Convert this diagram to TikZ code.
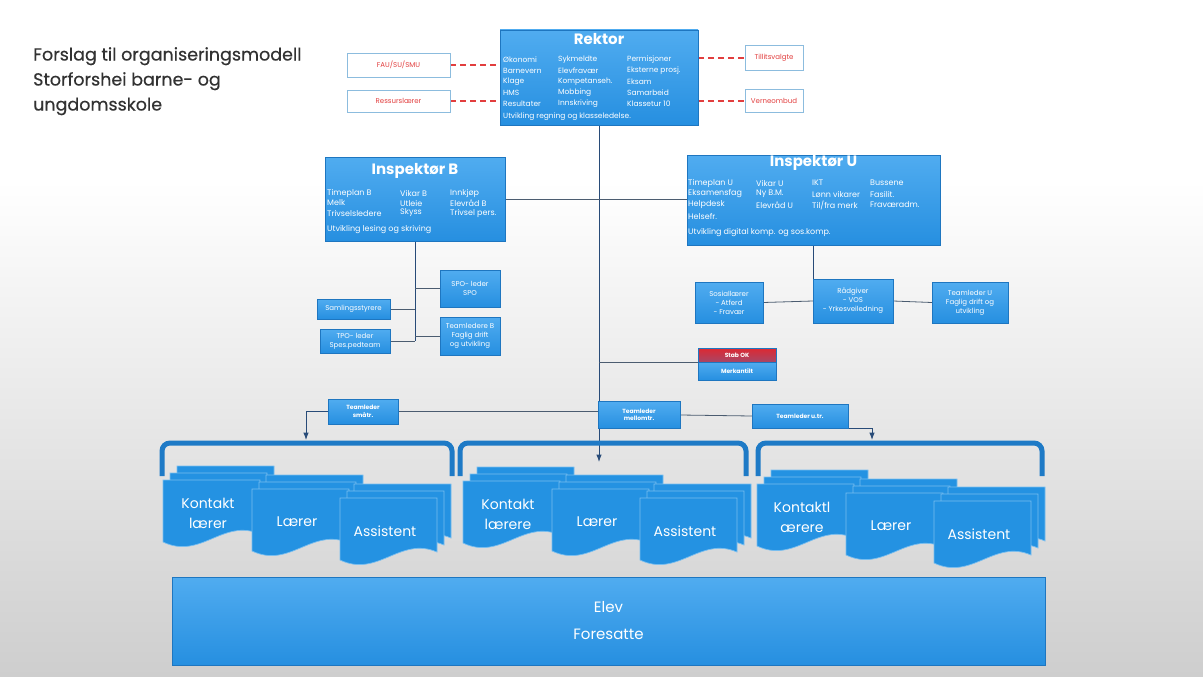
\documentclass[tikz,border=0pt]{standalone}
\usepackage{fontspec}
\setmainfont{Poppins}
\newfontfamily\headfont{Poppins}[FakeBold=0.4]
\usetikzlibrary{arrows.meta}
\definecolor{boxblue}{RGB}{38,143,224}
\definecolor{boxtop}{RGB}{80,172,240}
\definecolor{boxedge}{RGB}{30,118,192}
\definecolor{docblue}{RGB}{36,146,226}
\definecolor{docedge}{RGB}{120,190,240}
\definecolor{bracketblue}{RGB}{30,122,198}
\definecolor{connline}{RGB}{75,92,112}
\definecolor{mainline}{RGB}{40,75,120}
\definecolor{redtxt}{RGB}{226,62,62}
\definecolor{sideedge}{RGB}{140,188,222}
\definecolor{titlegray}{RGB}{50,50,50}
\definecolor{bggray}{RGB}{206,206,206}
\definecolor{stabred}{RGB}{222,40,50}
\pgfdeclarelayer{bg}
\pgfdeclarelayer{lines}
\pgfsetlayers{bg,lines,main}
% one sheet of a document stack, top left corner at (#1,#2)
\newcommand\docsheet[2]{%
  \filldraw[fill=docblue,draw=docedge,line width=0.7pt]
    ({#1},{#2}) -- ({#1+97},{#2}) -- ({#1+97},{#2+54})
    .. controls ({#1+60},{#2+38}) and ({#1+38},{#2+80}) .. ({#1},{#2+62}) -- cycle;}
% stack of three sheets with a label
\newcommand\docstack[4]{%
  \foreach \d in {14,7,0} {\docsheet{#1+\d}{#2-\d}}
  \node[doctext] (#3) at ({#1+45},{#2+33}) {#4};}
\begin{document}
\begin{tikzpicture}[x=1pt,y=-1pt,>=Latex,
  box/.style={rectangle,draw=boxedge,top color=boxtop,bottom color=boxblue,
    text=white,inner sep=1pt,align=center},
  sidebox/.style={rectangle,draw=sideedge,fill=white,text=redtxt,
    font=\fontsize{7}{8}\selectfont},
  boxtitle/.style={text=white,inner sep=0pt,font=\bfseries\fontsize{15}{16}\selectfont},
  cell/.style={anchor=west,text=white,inner sep=0pt,font=\fontsize{8}{9}\selectfont},
  rcell/.style={cell,font=\fontsize{7.5}{9}\selectfont},
  smalltxt/.style={font=\fontsize{7}{9}\selectfont},
  tltxt/.style={font=\bfseries\fontsize{6}{7.5}\selectfont},
  doctext/.style={text=white,align=center,inner sep=0pt,font=\fontsize{14}{20}\selectfont},
  conn/.style={draw=connline,line width=0.8pt},
  mainconn/.style={draw=mainline,line width=1pt},
  dashred/.style={draw=redtxt,line width=1.2pt,dash pattern=on 6pt off 4pt},
  bracket/.style={draw=bracketblue,line width=5pt,rounded corners=8pt}]

\useasboundingbox (0,0) rectangle (1203,677);
\begin{pgfonlayer}{bg}
  \fill[white] (0,0) rectangle (1203,677);
  \shade[top color=white,bottom color=bggray] (0,180) rectangle (1203,677);
\end{pgfonlayer}

% title
\node[anchor=north west,align=left,text=titlegray,inner sep=0pt,
  font=\headfont\fontsize{17.5}{25}\selectfont] (heading) at (33,47)
  {Forslag til organiseringsmodell\\Storforshei barne- og\\ungdomsskole};

% Rektor
\node[box,minimum width=198pt,minimum height=95pt] (rektor) at (599,77.5) {};
\node[boxtitle] (rektortit) at (599,39) {Rektor};
\foreach \t [count=\i] in {Økonomi,Barnevern,Klage,HMS,Resultater}
  \node[rcell] (rka\i) at (503,{49+11*\i}) {\t};
\foreach \t [count=\i] in {Sykmeldte,Elevfravær,Kompetanseh.,Mobbing,Innskriving}
  \node[rcell] (rkb\i) at (558,{49+11*\i}) {\t};
\foreach \t [count=\i] in {Permisjoner,Eksterne prosj.,Eksam,Samarbeid,Klassetur 10}
  \node[rcell] (rkc\i) at (627,{49+11*\i}) {\t};
\node[rcell] (rkfoot) at (503,117) {Utvikling regning og klasseledelse.};

\node[sidebox,minimum width=103pt,minimum height=24pt] (fau) at (398.5,65) {FAU/SU/SMU};
\node[sidebox,minimum width=103pt,minimum height=22pt] (ressurs) at (398.5,101) {Ressurslærer};
\node[sidebox,minimum width=58pt,minimum height=25pt] (tillit) at (774,58) {Tillitsvalgte};
\node[sidebox,minimum width=58pt,minimum height=23pt] (verne) at (774,101) {Verneombud};

% Inspektør B
\node[box,minimum width=180pt,minimum height=84pt] (inspB) at (415,199) {};
\node[boxtitle] (inspBtit) at (415,171) {Inspektør B};
\foreach \t [count=\i] in {Timeplan B,Melk,Trivselsledere}
  \node[cell] (iba\i) at (327,{183+10*\i}) {\t};
\foreach \t [count=\i] in {Vikar B,Utleie,Skyss}
  \node[cell] (ibb\i) at (400,{183+10*\i}) {\t};
\foreach \t [count=\i] in {Innkjøp,Elevråd B,Trivsel pers.}
  \node[cell] (ibc\i) at (450,{183+10*\i}) {\t};
\node[cell] (ibfoot) at (327,230) {Utvikling lesing og skriving};

% Inspektør U
\node[box,minimum width=253pt,minimum height=90pt] (inspU) at (813.5,200) {};
\node[boxtitle] (inspUtit) at (813.5,163) {Inspektør U};
\foreach \t [count=\i] in {Timeplan U,Eksamensfag,Helpdesk,Helsefr.}
  \node[cell] (iua\i) at (688,{172+11*\i}) {\t};
\foreach \t [count=\i] in {Vikar U,Ny B.M.,Elevråd U}
  \node[cell] (iub\i) at (756,{172+11*\i}) {\t};
\foreach \t [count=\i] in {IKT,Lønn vikarer,Til/fra merk}
  \node[cell] (iuc\i) at (812,{172+11*\i}) {\t};
\foreach \t [count=\i] in {Bussene,Fasilit.,Fraværadm.}
  \node[cell] (iud\i) at (870,{172+11*\i}) {\t};
\node[cell] (iufoot) at (688,233) {Utvikling digital komp. og sos.komp.};

% under Inspektør B
\node[box,smalltxt,minimum width=73pt,minimum height=20pt] (samling) at (353.5,309) {Samlingsstyrere};
\node[box,smalltxt,minimum width=70pt,minimum height=24pt] (tpo) at (355,341) {TPO- leder\\Spes.pedteam};
\node[box,smalltxt,minimum width=60pt,minimum height=37pt] (spo) at (470,288.5) {SPO- leder\\SPO};
\node[box,smalltxt,minimum width=60pt,minimum height=38pt] (teamB) at (470,336) {Teamledere B\\Faglig drift\\og utvikling};

% under Inspektør U
\node[box,smalltxt,minimum width=68pt,minimum height=41pt] (sosial) at (729,302.5) {Sosiallærer\\- Atferd\\- Fravær};
\node[box,smalltxt,minimum width=80pt,minimum height=44pt] (radgiver) at (853,301) {Rådgiver\\- VOS\\- Yrkesveiledning};
\node[box,smalltxt,minimum width=76pt,minimum height=41pt] (teamU) at (970,302.5) {Teamleder U\\Faglig drift og\\utvikling};

% Stab
\node[rectangle,draw=boxedge,top color=stabred,bottom color=stabred!70!boxblue,text=white,
  tltxt,minimum width=78pt,minimum height=14pt,inner sep=0pt] (stabok) at (737,355) {Stab OK};
\node[box,tltxt,minimum width=78pt,minimum height=18pt,inner sep=0pt] (merk) at (737,371) {Merkantilt};

% teamledere
\node[box,tltxt,minimum width=70pt,minimum height=25pt] (tlsmaa) at (363,411.5) {Teamleder\\småtr.};
\node[box,tltxt,minimum width=82pt,minimum height=27pt] (tlmell) at (639,415) {Teamleder\\mellomtr.};
\node[box,tltxt,minimum width=96pt,minimum height=24pt] (tlut) at (800,416) {Teamleder u.tr.};

\coordinate (arrM) at (599,462);
\coordinate (arrL) at (306,440);
\coordinate (arrR) at (872,440);

% brackets
\draw[bracket] (162,476) |- (307,443) -| (452,476);
\draw[bracket] (460,476) |- (603,443) -| (746,476);
\draw[bracket] (758,476) |- (900,443) -| (1042,476);

% document stacks
\docstack{163}{480}{kl1}{Kontakt\\lærer}
\docstack{252}{489}{lr1}{Lærer}
\docstack{340}{498}{as1}{Assistent}
\docstack{463}{481}{kl2}{Kontakt\\lærere}
\docstack{552}{489}{lr2}{Lærer}
\docstack{640}{498}{as2}{Assistent}
\docstack{757}{484}{kl3}{Kontaktl\\ærere}
\docstack{846}{493}{lr3}{Lærer}
\docstack{934}{501}{as3}{Assistent}

% Elev
\node[box,minimum width=873pt,minimum height=88pt,
  font=\fontsize{15}{27}\selectfont] (elev) at (608.5,621) {Elev\\Foresatte};

% connectors
\begin{pgfonlayer}{lines}
  \draw[mainconn,->] (rektor.south) -- (arrM);
  \draw[dashred] (fau.east) -- (fau.east -| rektor.west);
  \draw[dashred] (ressurs.east) -- (ressurs.east -| rektor.west);
  \draw[dashred] (rektor.east |- tillit.west) -- (tillit.west);
  \draw[dashred] (rektor.east |- verne.west) -- (verne.west);
  \draw[conn] (inspB.east) -- (inspB.east -| inspU.west);
  \draw[mainconn] (inspB.south) -- (inspB.south |- tpo.east);
  \draw[conn] (samling.east) -- (samling.east -| inspB.south);
  \draw[conn] (tpo.east) -- (tpo.east -| inspB.south);
  \draw[conn] (spo.west) -- (spo.west -| inspB.south);
  \draw[conn] (teamB.west) -- (teamB.west -| inspB.south);
  \draw[mainconn] (inspU.south) -- (inspU.south |- radgiver.north);
  \draw[conn] (sosial.east) -- (radgiver.west);
  \draw[conn] (radgiver.east) -- (teamU.west);
  \draw[conn] (stabok.south west) -- (stabok.south west -| rektor.south);
  \draw[conn] (tlsmaa.east) -- (tlsmaa.east -| rektor.south);
  \draw[conn] (tlmell.east) -- (tlut.west);
  \draw[mainconn,->] (tlsmaa.west) -| (arrL);
  \draw[mainconn,->] (tlut.south east) -| (arrR);
\end{pgfonlayer}
\end{tikzpicture}
\end{document}
